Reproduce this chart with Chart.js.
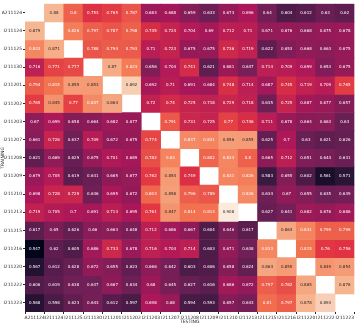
<!DOCTYPE html>
<html>
<head>
<meta charset="utf-8">
<script src="https://cdn.jsdelivr.net/npm/chart.js@4/dist/chart.umd.min.js"></script>
<style>
  body { margin: 0; background: #fff; }
</style>
</head>
<body>
<canvas id="myChart" width="355" height="325"></canvas>
<script>
// tick labels (same for testing columns and training rows)
const sites = ["A211124", "I211124", "I211125", "I211130", "I211201", "I211202", "I211203", "I211207",
  "I211208", "I211209", "I211210", "I211213", "I211215", "I211216", "I211220", "I211222", "I211223"];

// one array per training row, values per testing column (null = diagonal)
const rowA211124 = [null, 0.88, 0.8, 0.753, 0.765, 0.787, 0.683, 0.688, 0.659, 0.633, 0.673, 0.696, 0.64, 0.604, 0.612, 0.63, 0.62];
const rowI211124 = [0.879, null, 0.826, 0.797, 0.787, 0.798, 0.745, 0.724, 0.704, 0.69, 0.712, 0.71, 0.671, 0.676, 0.668, 0.675, 0.678];
const rowI211125 = [0.833, 0.871, null, 0.788, 0.794, 0.793, 0.71, 0.723, 0.675, 0.675, 0.736, 0.719, 0.622, 0.653, 0.668, 0.663, 0.675];
const rowI211130 = [0.716, 0.771, 0.777, null, 0.87, 0.823, 0.656, 0.704, 0.741, 0.621, 0.681, 0.647, 0.714, 0.709, 0.699, 0.653, 0.675];
const rowI211201 = [0.794, 0.815, 0.855, 0.853, null, 0.892, 0.692, 0.71, 0.691, 0.684, 0.748, 0.714, 0.687, 0.745, 0.719, 0.709, 0.765];
const rowI211202 = [0.765, 0.845, 0.77, 0.837, 0.864, null, 0.72, 0.74, 0.725, 0.718, 0.729, 0.718, 0.635, 0.725, 0.687, 0.677, 0.657];
const rowI211203 = [0.67, 0.699, 0.658, 0.664, 0.682, 0.677, null, 0.791, 0.731, 0.725, 0.77, 0.746, 0.711, 0.678, 0.664, 0.663, 0.63];
const rowI211207 = [0.661, 0.726, 0.637, 0.709, 0.672, 0.675, 0.774, null, 0.837, 0.831, 0.856, 0.855, 0.625, 0.7, 0.63, 0.621, 0.626];
const rowI211208 = [0.621, 0.669, 0.629, 0.675, 0.701, 0.689, 0.782, 0.83, null, 0.802, 0.833, 0.8, 0.665, 0.712, 0.651, 0.644, 0.631];
const rowI211209 = [0.679, 0.705, 0.619, 0.631, 0.665, 0.677, 0.762, 0.854, 0.749, null, 0.831, 0.826, 0.583, 0.655, 0.602, 0.561, 0.571];
const rowI211210 = [0.698, 0.728, 0.729, 0.636, 0.695, 0.672, 0.803, 0.858, 0.796, 0.789, null, 0.836, 0.634, 0.67, 0.655, 0.635, 0.639];
const rowI211213 = [0.719, 0.705, 0.7, 0.691, 0.713, 0.695, 0.761, 0.847, 0.814, 0.813, 0.908, null, 0.627, 0.641, 0.682, 0.676, 0.686];
const rowI211215 = [0.617, 0.65, 0.626, 0.66, 0.663, 0.648, 0.712, 0.686, 0.667, 0.604, 0.646, 0.617, null, 0.864, 0.831, 0.799, 0.799];
const rowI211216 = [0.547, 0.62, 0.605, 0.686, 0.733, 0.678, 0.716, 0.704, 0.714, 0.603, 0.671, 0.638, 0.833, null, 0.815, 0.76, 0.756];
const rowI211220 = [0.567, 0.612, 0.628, 0.672, 0.655, 0.623, 0.666, 0.642, 0.603, 0.606, 0.658, 0.624, 0.864, 0.855, null, 0.849, 0.854];
const rowI211222 = [0.606, 0.619, 0.638, 0.637, 0.667, 0.634, 0.68, 0.645, 0.627, 0.616, 0.686, 0.672, 0.797, 0.782, 0.865, null, 0.878];
const rowI211223 = [0.568, 0.598, 0.623, 0.643, 0.612, 0.597, 0.698, 0.68, 0.594, 0.593, 0.657, 0.643, 0.81, 0.797, 0.878, 0.893, null];

const rows = [rowA211124, rowI211124, rowI211125, rowI211130, rowI211201, rowI211202, rowI211203, rowI211207,
  rowI211208, rowI211209, rowI211210, rowI211213, rowI211215, rowI211216, rowI211220, rowI211222, rowI211223];

// rocket-like colour ramp
const stops = [
  [0.0, [3, 5, 26]],
  [0.083, [53, 25, 62]],
  [0.25, [112, 31, 87]],
  [0.417, [173, 23, 89]],
  [0.583, [225, 51, 66]],
  [0.75, [243, 118, 81]],
  [0.917, [246, 180, 143]],
  [1.0, [250, 235, 221]]
];

let all = rows.flat().filter((v) => v !== null);
let vmin = Math.min(...all);
let vmax = Math.max(...all);

function rgbFor(v) {
  let t = (v - vmin) / (vmax - vmin);
  t = Math.max(0, Math.min(1, t));
  for (let i = 1; i < stops.length; i++) {
    if (t <= stops[i][0]) {
      let a = stops[i - 1], b = stops[i];
      let f = (t - a[0]) / (b[0] - a[0]);
      return a[1].map((c, k) => Math.round(c + (b[1][k] - c) * f));
    }
  }
  return stops[stops.length - 1][1];
}

function colorFor(v) {
  if (v === null) return "rgba(0,0,0,0)";
  let c = rgbFor(v);
  return "rgb(" + c.join(",") + ")";
}

function textColorFor(v) {
  let c = rgbFor(v).map((x) => {
    x = x / 255;
    return x <= 0.03928 ? x / 12.92 : Math.pow((x + 0.055) / 1.055, 2.4);
  });
  let lum = 0.2126 * c[0] + 0.7152 * c[1] + 0.0722 * c[2];
  return lum > 0.408 ? "#262626" : "#ffffff";
}

const cellLabels = {
  id: "cellLabels",
  afterDatasetsDraw(chart) {
    const ctx = chart.ctx;
    ctx.save();
    ctx.font = "4px 'DejaVu Sans'";
    ctx.textAlign = "center";
    ctx.textBaseline = "middle";
    chart.data.datasets.forEach((ds, r) => {
      const meta = chart.getDatasetMeta(r);
      meta.data.forEach((bar, c) => {
        let v = rows[r][c];
        if (v === null) return;
        ctx.fillStyle = textColorFor(v);
        ctx.fillText(String(v), bar.x, (bar.y + bar.base) / 2);
      });
    });
    ctx.restore();
  }
};

const tickFont = { family: "DejaVu Sans", size: 4.5 };

new Chart("myChart", {
  type: "bar",
  data: {
    labels: sites,
    datasets: rows.map((row, r) => ({
      label: sites[r],
      data: row.map(() => 1),
      backgroundColor: row.map(colorFor),
      borderWidth: 0,
      barPercentage: 1,
      categoryPercentage: 1
    }))
  },
  options: {
    responsive: false,
    animation: false,
    devicePixelRatio: 1,
    layout: { padding: 0 },
    plugins: {
      legend: { display: false },
      tooltip: { enabled: false }
    },
    scales: {
      x: {
        stacked: true,
        grid: { drawOnChartArea: false, drawTicks: true, tickLength: 2, color: "#262626" },
        border: { display: false },
        ticks: { font: tickFont, color: "#262626", maxRotation: 0, autoSkip: false, padding: 1 },
        title: { display: true, text: "TESTING", font: tickFont, color: "#262626", padding: 0 },
        afterFit: (axis) => { axis.height = 13; }
      },
      y: {
        stacked: true,
        reverse: true,
        min: 0,
        max: sites.length,
        grid: { drawOnChartArea: false, drawTicks: true, tickLength: 2, color: "#262626" },
        border: { display: false },
        afterBuildTicks: (axis) => {
          axis.ticks = sites.map((s, i) => ({ value: i + 0.5 }));
        },
        ticks: {
          font: tickFont,
          color: "#262626",
          padding: 1,
          callback: (value) => sites[Math.floor(value)]
        },
        title: { display: true, text: "TRAINING", font: tickFont, color: "#262626", padding: 0 },
        afterFit: (axis) => { axis.width = 25; }
      }
    }
  },
  plugins: [cellLabels]
});
</script>
</body>
</html>
